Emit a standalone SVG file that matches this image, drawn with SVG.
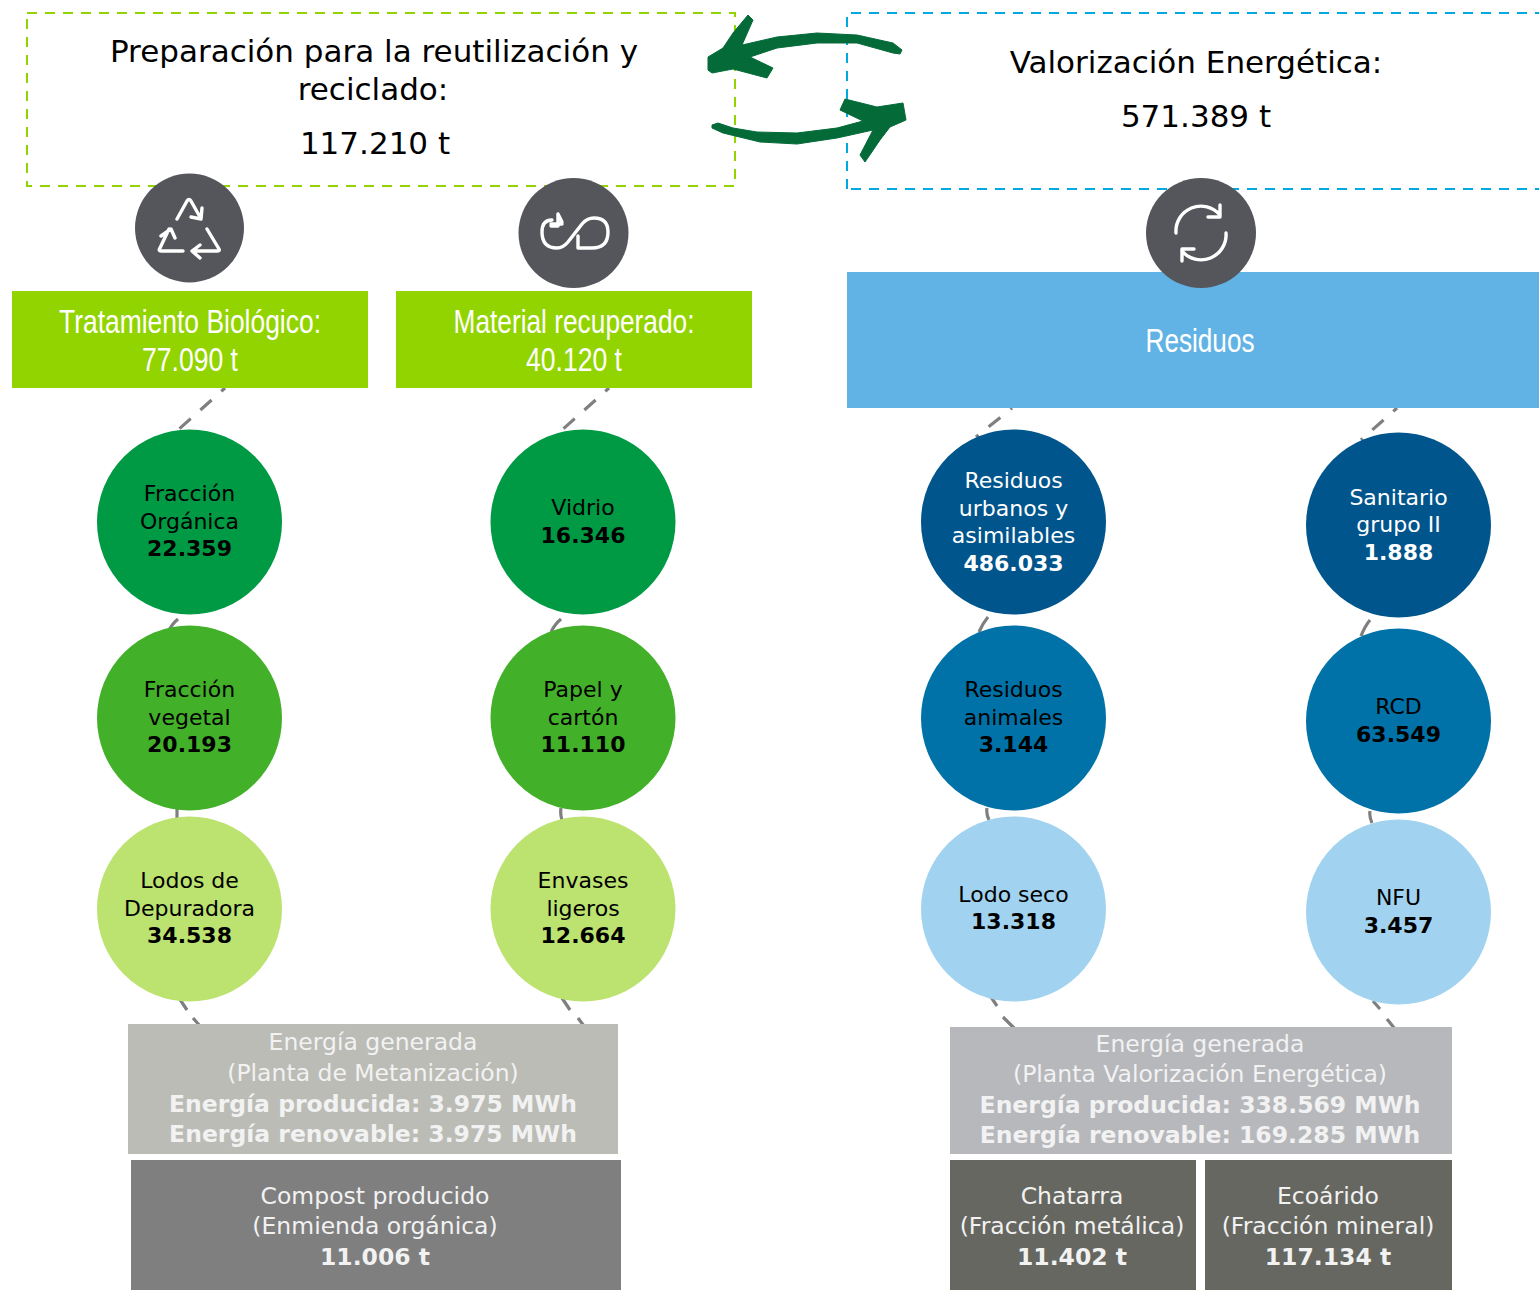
<svg xmlns="http://www.w3.org/2000/svg" width="1539" height="1290" viewBox="0 0 1539 1290">
<style>
text{font-family:"DejaVu Sans",Verdana,sans-serif;text-anchor:middle}
.t{font-size:31px;fill:#000}
.h{font-family:"Liberation Sans",Arial,sans-serif;font-size:33px;fill:#fff}
.c{font-size:22px;fill:#000}
.w{fill:#fff}
.b{font-weight:bold}
.e{font-size:23.5px;fill:#f2f2f2}
.ic{fill:none;stroke:#fff;stroke-width:3.4;stroke-linecap:round;stroke-linejoin:round}
.icb{fill:#54565b}
.cn{fill:none;stroke:#7f7f7f;stroke-width:3.2}
.arr{fill:#046a38;stroke:#046a38;stroke-width:1;stroke-linejoin:round}
</style>
<g id="box-reciclado"><rect x="27" y="13" width="708" height="173" fill="#fff" stroke="#92d400" stroke-width="2" stroke-dasharray="10 8"/>
<text class="t" x="374" y="62">Preparación para la reutilización y</text><text class="t" x="373" y="100">reciclado:</text><text class="t" x="375" y="154">117.210 t</text></g>
<g id="box-valorizacion"><path d="M847 189V13H1545M1545 189H847" fill="#fff" stroke="#00a9e0" stroke-width="2" stroke-dasharray="10 8"/>
<text class="t" x="1196" y="73">Valorización Energética:</text><text class="t" x="1196" y="127">571.389 t</text></g>
<g id="flechas">
<path class="arr" d="M902 50L893 43 857 35 817 33 777 37 742 45 753 20 748 15 733 33 723 48 708 57 708 70 712 73 733 69 767 78 773 68 750 57 777 48 817 43 857 43 893 53 900 54Z"/>
<path class="arr" d="M712 125L718 123 733 128 757 132 797 133 837 128 863 121 840 110 845 99 877 107 903 103 906 120 890 127 880 140 865 162 860 155 873 130 837 138 797 144 760 142 723 133 712 128Z"/>
</g>
<g id="connectors">
<path class="cn" d="M225 388L178 430" stroke-dasharray="5 13 15 13 15"/>
<path class="cn" d="M609 388L562 430" stroke-dasharray="5 13 15 13 15"/>
<path class="cn" d="M1012 408L976 437" stroke-dasharray="2 13 15 13 15"/>
<path class="cn" d="M1397 408L1361 440" stroke-dasharray="5 13 15 13 15"/>
<path class="cn" d="M178 619Q172 624 168 632M561 619Q555 624 551 632M988 617Q983 623 979 632M1370 620Q1365 626 1361 636"/>
<path class="cn" d="M177 808V820M561 808Q560 814 562 820M987 808Q986 814 989 820M1370 811Q1369 816 1372 823"/>
<path class="cn" d="M179 998L187 1010M193 1018L200 1026M562 998L570 1010M578 1018L584 1026M991 997L997 1006M1003 1017L1015 1029M1373 1001L1380 1009M1387 1019L1395 1029"/>
</g>
<g id="tratamiento"><rect x="12" y="291" width="356" height="97" fill="#92d400"/>
<text class="h" x="190" y="333" textLength="262" lengthAdjust="spacingAndGlyphs">Tratamiento Biológico:</text><text class="h" x="190" y="371" textLength="96" lengthAdjust="spacingAndGlyphs">77.090 t</text></g>
<g id="material"><rect x="396" y="291" width="356" height="97" fill="#92d400"/>
<text class="h" x="574" y="333" textLength="241" lengthAdjust="spacingAndGlyphs">Material recuperado:</text><text class="h" x="574" y="371" textLength="96" lengthAdjust="spacingAndGlyphs">40.120 t</text></g>
<g id="residuos"><rect x="847" y="272" width="692" height="136" fill="#62b3e5"/>
<text class="h" x="1200" y="352" textLength="109" lengthAdjust="spacingAndGlyphs">Residuos</text></g>
<g id="icono-reciclaje"><circle class="icb" cx="189.5" cy="228" r="54.5"/>
<path class="ic" d="M177 219L187 201Q189 198 191 201L200 217M202 208L201 219 191 217M207 229L219 249Q220 251 217 251H192M200 245L192 251 200 258M183 251H161Q158 251 160 248L169 229M161 236L171 229 175 238"/></g>
<g id="icono-material"><circle class="icb" cx="573.5" cy="233" r="55"/>
<path class="ic" d="M552 220Q542 220 542 232 542 248 557 248 563 248 568 242L582 224Q587 218 594 218 608 218 608 232 608 248 592 248H581M562 224H551M558 214L562 222M578 236V248H586M558 214V226H551"/></g>
<g id="icono-residuos"><circle class="icb" cx="1201" cy="233" r="55"/>
<path class="ic" d="M1176 233A25 25 0 0 1 1220 215M1220 205V217H1208M1226 233A25 25 0 0 1 1182 251M1182 261V249H1194"/></g>
<g id="n-organica"><circle cx="189.5" cy="522" r="92.5" fill="#009a44"/><text class="c" x="189.5" y="501">Fracción</text><text class="c" x="189.5" y="529">Orgánica</text><text class="c b" x="189.5" y="556">22.359</text></g>
<g id="n-vegetal"><circle cx="189.5" cy="718" r="92.5" fill="#43b02a"/><text class="c" x="189.5" y="697">Fracción</text><text class="c" x="189.5" y="725">vegetal</text><text class="c b" x="189.5" y="752">20.193</text></g>
<g id="n-lodos"><circle cx="189.5" cy="909" r="92.5" fill="#bce270"/><text class="c" x="189.5" y="888">Lodos de</text><text class="c" x="189.5" y="916">Depuradora</text><text class="c b" x="189.5" y="943">34.538</text></g>
<g id="n-vidrio"><circle cx="583" cy="522" r="92.5" fill="#009a44"/><text class="c" x="583" y="515">Vidrio</text><text class="c b" x="583" y="543">16.346</text></g>
<g id="n-papel"><circle cx="583" cy="718" r="92.5" fill="#43b02a"/><text class="c" x="583" y="697">Papel y</text><text class="c" x="583" y="725">cartón</text><text class="c b" x="583" y="752">11.110</text></g>
<g id="n-envases"><circle cx="583" cy="909" r="92.5" fill="#bce270"/><text class="c" x="583" y="888">Envases</text><text class="c" x="583" y="916">ligeros</text><text class="c b" x="583" y="943">12.664</text></g>
<g id="n-urbanos"><circle cx="1013.5" cy="522" r="92.5" fill="#00558c"/><text class="c w" x="1013.5" y="488">Residuos</text><text class="c w" x="1013.5" y="516">urbanos y</text><text class="c w" x="1013.5" y="543">asimilables</text><text class="c w b" x="1013.5" y="571">486.033</text></g>
<g id="n-animales"><circle cx="1013.5" cy="718" r="92.5" fill="#0072a8"/><text class="c" x="1013.5" y="697">Residuos</text><text class="c" x="1013.5" y="725">animales</text><text class="c b" x="1013.5" y="752">3.144</text></g>
<g id="n-lodo-seco"><circle cx="1013.5" cy="909" r="92.5" fill="#a1d3f0"/><text class="c" x="1013.5" y="902">Lodo seco</text><text class="c b" x="1013.5" y="929">13.318</text></g>
<g id="n-sanitario"><circle cx="1398.5" cy="525" r="92.5" fill="#00558c"/><text class="c w" x="1398.5" y="505">Sanitario</text><text class="c w" x="1398.5" y="532">grupo II</text><text class="c w b" x="1398.5" y="560">1.888</text></g>
<g id="n-rcd"><circle cx="1398.5" cy="721" r="92.5" fill="#0072a8"/><text class="c" x="1398.5" y="714">RCD</text><text class="c b" x="1398.5" y="742">63.549</text></g>
<g id="n-nfu"><circle cx="1398.5" cy="912" r="92.5" fill="#a1d3f0"/><text class="c" x="1398.5" y="905">NFU</text><text class="c b" x="1398.5" y="933">3.457</text></g>
<g id="energia-metanizacion"><rect x="128" y="1024" width="490" height="130" fill="#bbbcb6"/>
<text class="e" x="373" y="1050">Energía generada</text><text class="e" x="373" y="1081">(Planta de Metanización)</text><text class="e b" x="373" y="1112">Energía producida: 3.975 MWh</text><text class="e b" x="373" y="1142">Energía renovable: 3.975 MWh</text></g>
<g id="compost"><rect x="131" y="1160" width="490" height="130" fill="#7f7f7f"/>
<text class="e" x="375" y="1204">Compost producido</text><text class="e" x="375" y="1234">(Enmienda orgánica)</text><text class="e b" x="375" y="1265">11.006 t</text></g>
<g id="energia-valorizacion"><rect x="950" y="1027" width="502" height="127" fill="#b7b8bc"/>
<text class="e" x="1200" y="1052">Energía generada</text><text class="e" x="1200" y="1082">(Planta Valorización Energética)</text><text class="e b" x="1200" y="1113">Energía producida: 338.569 MWh</text><text class="e b" x="1200" y="1143">Energía renovable: 169.285 MWh</text></g>
<g id="chatarra"><rect x="950" y="1160" width="246" height="130" fill="#666760"/>
<text class="e" x="1072" y="1204">Chatarra</text><text class="e" x="1072" y="1234">(Fracción metálica)</text><text class="e b" x="1072" y="1265">11.402 t</text></g>
<g id="ecoarido"><rect x="1205" y="1160" width="247" height="130" fill="#666760"/>
<text class="e" x="1328" y="1204">Ecoárido</text><text class="e" x="1328" y="1234">(Fracción mineral)</text><text class="e b" x="1328" y="1265">117.134 t</text></g>
</svg>
